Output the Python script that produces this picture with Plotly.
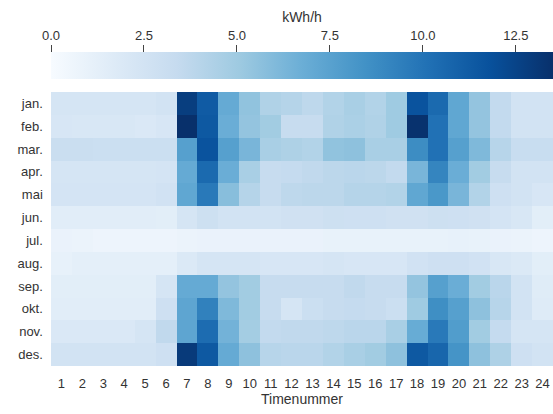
import plotly.graph_objects as go

months = ["jan.", "feb.", "mar.", "apr.", "mai", "jun.", "jul.", "aug.", "sep.", "okt.", "nov.", "des."]
hours = list(range(1, 25))

jan = [2.3, 2.3, 2.3, 2.3, 2.3, 2.5, 12.8, 11.3, 7.0, 5.5, 4.3, 4.1, 3.7, 4.2, 4.6, 4.2, 5.0, 11.7, 10.5, 7.2, 5.4, 3.5, 2.5, 2.5]
feb = [2.2, 2.1, 2.1, 2.1, 2.0, 2.2, 13.5, 11.4, 6.8, 5.4, 4.9, 3.3, 3.3, 4.3, 4.5, 4.3, 5.0, 13.4, 10.1, 7.2, 5.4, 3.5, 2.5, 2.5]
mar = [3.1, 3.1, 3.0, 3.0, 3.0, 3.0, 7.6, 11.7, 7.6, 6.3, 4.6, 4.4, 4.2, 5.5, 5.6, 4.6, 4.6, 8.7, 10.1, 7.6, 6.1, 4.0, 3.2, 3.2]
apr = [2.3, 2.3, 2.3, 2.3, 2.3, 2.4, 7.0, 10.5, 6.8, 4.6, 3.3, 3.4, 3.6, 3.8, 3.9, 3.8, 3.5, 6.3, 9.1, 6.8, 4.9, 3.3, 2.5, 2.5]
mai = [2.4, 2.4, 2.4, 2.4, 2.4, 2.6, 7.2, 9.7, 5.8, 4.1, 3.3, 3.7, 3.8, 3.8, 4.1, 4.1, 4.2, 7.2, 8.1, 6.3, 4.2, 2.8, 2.5, 2.2]
jun = [1.5, 1.5, 1.5, 1.5, 1.5, 1.4, 2.3, 2.9, 2.5, 2.5, 2.5, 2.7, 2.7, 2.9, 2.8, 2.8, 2.7, 2.7, 2.9, 2.8, 2.7, 2.4, 2.1, 1.4]
jul = [0.9, 0.8, 0.7, 0.7, 0.7, 0.7, 0.8, 0.9, 0.9, 0.9, 0.9, 0.9, 0.9, 1.0, 1.0, 1.0, 1.0, 1.0, 1.0, 1.1, 1.0, 0.9, 0.8, 0.7]
aug = [1.1, 1.3, 1.3, 1.3, 1.3, 1.3, 1.9, 2.3, 2.3, 2.3, 2.2, 2.2, 2.2, 2.3, 2.2, 2.2, 2.2, 2.6, 2.8, 2.8, 2.6, 2.1, 1.9, 1.4]
sep = [1.4, 1.4, 1.4, 1.4, 1.4, 2.3, 7.0, 7.0, 5.4, 4.9, 3.3, 3.3, 3.3, 3.3, 3.6, 3.3, 3.3, 5.4, 7.6, 6.8, 4.9, 3.9, 2.5, 1.6]
okt = [1.5, 1.5, 1.5, 1.5, 1.5, 2.8, 7.3, 9.3, 6.1, 4.9, 3.3, 2.3, 3.0, 3.3, 3.4, 3.3, 3.0, 5.0, 8.6, 7.6, 5.6, 4.0, 2.5, 1.7]
nov = [2.0, 2.0, 2.0, 2.0, 2.3, 3.6, 7.3, 10.4, 6.5, 4.8, 3.5, 3.6, 3.6, 3.7, 3.9, 3.9, 4.6, 6.9, 9.7, 7.8, 4.9, 3.4, 2.3, 2.3]
des = [2.5, 2.5, 2.5, 2.5, 2.5, 2.8, 13.0, 11.4, 7.0, 5.6, 4.0, 3.9, 3.9, 4.2, 4.6, 4.9, 5.6, 11.4, 10.7, 8.3, 5.6, 4.4, 2.8, 2.5]

z = [jan, feb, mar, apr, mai, jun, jul, aug, sep, okt, nov, des]
cbar_ticks = [0.0, 2.5, 5.0, 7.5, 10.0, 12.5]
zmin, zmax = 0.0, 13.5

blues = [
    [0.0, "#f7fbff"], [0.125, "#deebf7"], [0.25, "#c6dbef"], [0.375, "#9ecae1"],
    [0.5, "#6baed6"], [0.625, "#4292c6"], [0.75, "#2171b5"], [0.875, "#08519c"],
    [1.0, "#08306b"],
]

FONT = "Liberation Sans, Arial, sans-serif"
TXT = "#333333"

W, H = 553, 414
ml, mr, mt, mb = 51, 0, 40, 48
ph = H - mt - mb
hm_top = 92
ydom_top = (H - mb - hm_top) / ph
cb_top_px = 52
cb_top = (H - mb - cb_top_px) / ph

fig = go.Figure()
fig.add_trace(go.Heatmap(
    z=z, x=hours, y=months,
    colorscale=blues, zmin=zmin, zmax=zmax,
    colorbar=dict(
        orientation="h",
        x=0.0, xanchor="left", len=1.0, lenmode="fraction",
        y=cb_top, yanchor="top", yref="paper",
        xpad=0, ypad=0,
        thickness=27, thicknessmode="pixels",
        outlinewidth=0,
        showticklabels=False, ticks="",
    ),
))
# axis that carries the colour bar's ticks and title above the bar
fig.add_trace(go.Scatter(x=[None], y=[None], xaxis="x2", yaxis="y2",
                         showlegend=False, hoverinfo="skip"))

fig.update_layout(
    width=W, height=H,
    margin=dict(l=ml, r=mr, t=mt, b=mb, pad=0, autoexpand=False),
    paper_bgcolor="white", plot_bgcolor="white",
    font=dict(family=FONT, size=12, color=TXT),
    xaxis=dict(
        tickmode="array", tickvals=hours, ticktext=[str(h) for h in hours],
        showgrid=False, zeroline=False, showline=False, ticks="",
        ticklabelstandoff=8,
        tickfont=dict(size=13, color=TXT),
        title=dict(text="Timenummer", font=dict(size=14, color=TXT), standoff=4),
    ),
    yaxis=dict(
        domain=[0, ydom_top], autorange="reversed",
        showgrid=False, zeroline=False, showline=False, ticks="",
        tickfont=dict(size=13, color=TXT), ticksuffix="  ",
    ),
    xaxis2=dict(
        range=[zmin, zmax], domain=[0, 1], anchor="free", position=cb_top,
        side="top",
        tickmode="array", tickvals=cbar_ticks, tickformat=".1f",
        ticks="outside", ticklen=7, tickwidth=1.3, tickcolor="#444",
        showgrid=False, zeroline=False, showline=False,
        tickfont=dict(size=13, color=TXT),
        title=dict(text="kWh/h", font=dict(size=14, color=TXT), standoff=0),
    ),
    yaxis2=dict(domain=[cb_top, 1], anchor="x2", visible=False, range=[0, 1]),
)

fig.write_html("out.html", config={"displayModeBar": False},
               post_script="document.body.style.margin='0';document.body.style.overflow='hidden';")
